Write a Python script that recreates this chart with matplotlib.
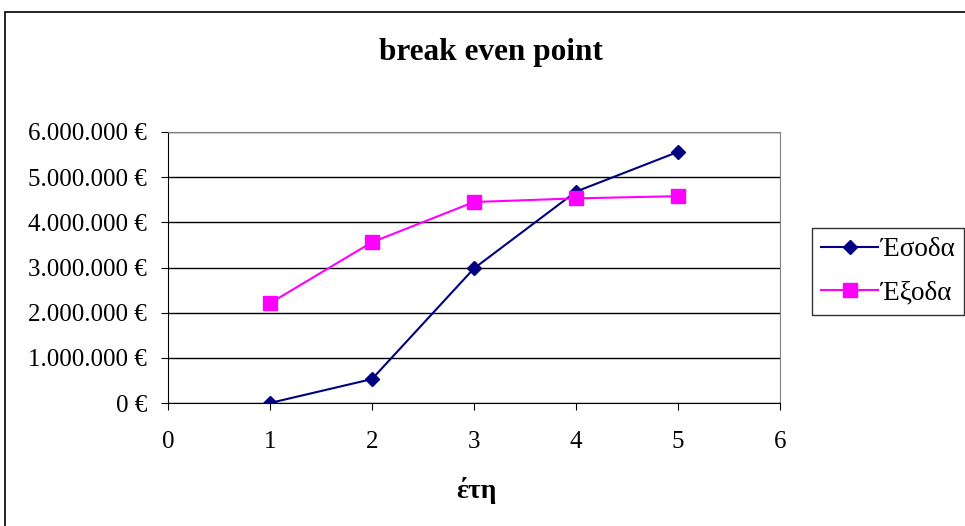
import matplotlib
matplotlib.use("Agg")
import matplotlib.pyplot as plt
from matplotlib.patches import Rectangle
from matplotlib.ticker import FuncFormatter, MultipleLocator

years = [1, 2, 3, 4, 5]
esoda = [0, 530000, 2980000, 4680000, 5560000]
exoda = [2210000, 3560000, 4450000, 4530000, 4580000]

plt.rcParams['font.family'] = ['Liberation Serif', 'DejaVu Serif']

W, H = 965, 526
fig = plt.figure(figsize=(W / 100, H / 100), dpi=100)
fig.patch.set_facecolor('white')

# outer chart border
fig.add_artist(Rectangle((5 / W, -0.01), 1.0, 1 - 12 / H + 0.01,
                         transform=fig.transFigure, fill=False,
                         edgecolor='black', linewidth=1.2))

ax = fig.add_axes([168 / W, 1 - 403 / H, (780 - 168) / W, (403 - 132) / H])
ax.plot(years, esoda, color='#000080', marker='D', markersize=7,
        linewidth=1.5, label='Έσοδα')
ax.plot(years, exoda, color='#FF00FF', marker='s', markersize=10,
        linewidth=1.5, label='Έξοδα')

ax.set_xlim(0, 6)
ax.set_ylim(0, 6000000)
ax.xaxis.set_major_locator(MultipleLocator(1))
ax.yaxis.set_major_locator(MultipleLocator(1000000))
ax.yaxis.set_major_formatter(FuncFormatter(
    lambda v, p: f"{int(v):,}".replace(',', '.') + ' €'))
ax.grid(axis='y', color='black', linewidth=1)
ax.set_axisbelow(True)
for s in ('top', 'right'):
    ax.spines[s].set_color('#808080')
for s in ('left', 'bottom'):
    ax.spines[s].set_color('black')
ax.tick_params(axis='both', labelsize=18, length=5, direction='out',
               colors='black')
ax.tick_params(axis='x', pad=15)
ax.tick_params(axis='y', pad=10)

fig.text(476 / W, 1 - 490 / H, 'έτη', ha='center', va='center',
         fontsize=20, fontweight='bold')
fig.text(491 / W, 1 - 60 / H, 'break even point', ha='center',
         va='baseline', fontsize=22.5, fontweight='bold')

leg = fig.legend(loc='upper left', bbox_to_anchor=(812 / W, 1 - 228 / H),
                 fontsize=19.5, frameon=True, fancybox=False,
                 edgecolor='black', borderpad=0.35, handlelength=2.1,
                 handletextpad=0.1, labelspacing=0.67, borderaxespad=0)
leg.get_frame().set_linewidth(1.0)

fig.savefig('out.png', dpi=100)
